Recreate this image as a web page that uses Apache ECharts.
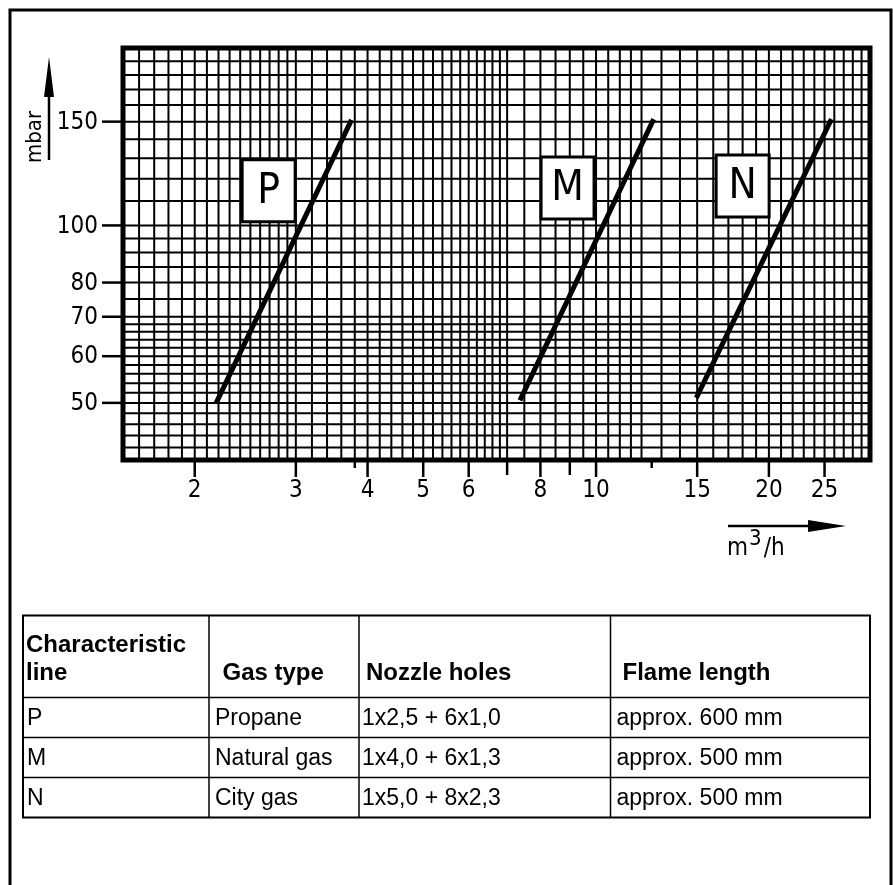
<!DOCTYPE html>
<html><head><meta charset="utf-8">
<script src="https://cdn.jsdelivr.net/npm/echarts@6/dist/echarts.min.js"></script>
<style>html,body{margin:0;padding:0;background:#fff}#c{width:893px;height:885px}</style>
</head><body><div id="c"></div>
<script>
// ---- data ----
const X_MIN = 1.5, X_MAX = 30, Y_MIN = 40, Y_MAX = 200;
const xGrid = [1.6,1.7,1.8,1.9,2.0,2.1,2.2,2.3,2.4,2.5,2.6,2.7,2.8,2.9,3.0,
  3.2,3.4,3.6,3.8,4.0,4.2,4.4,4.6,4.8,5.0,5.2,5.4,5.6,5.8,6.0,6.2,6.4,6.6,6.8,7.0,
  7.5,8,8.5,9,9.5,10,10.5,11,11.5,12,13,14,15,16,17,18,19,20,21,22,23,24,25,26,27,28,29];
const yGrid = [42,44,46,48,50,52,54,56,58,60,62,64,66,68,70,75,80,85,90,95,
  100,110,120,130,140,150,160,170,180,190];
const xTickLabels = [2,3,4,5,6,8,10,15,20,25];
const xExtraTicks = [7,9];
const xShortTicks = [3.8,12.5];
const yTickLabels = [50,60,70,80,100,150];
const lineNames = ['P','M','N'];
const lineP = [[2.18,50],[3.75,151]];
const lineM = [[7.37,50.5],[12.6,151.5]];
const lineN = [[14.95,51],[25.7,151.5]];
const labelBoxX = [2.69, 8.92, 18.0];
const labelBoxY = [114.5, 115.8, 116.7];
const yAxisTitle = 'mbar';
const xAxisTitleMain = ['m','3','/h'];
const tableHeader = ['Characteristic\nline','Gas type','Nozzle holes','Flame length'];
const tableRows = [
  ['P','Propane','1x2,5 + 6x1,0','approx. 600 mm'],
  ['M','Natural gas','1x4,0 + 6x1,3','approx. 500 mm'],
  ['N','City gas','1x5,0 + 8x2,3','approx. 500 mm']
];

// ---- style / layout ----
const NUM_FONT = '"DejaVu Sans Condensed","DejaVu Sans",sans-serif';
const TAB_FONT = '"Liberation Sans",Arial,sans-serif';
const colX = [23, 209, 359, 610.5, 870];
const rowY = [615.5, 697.5, 737.5, 777.5, 817.5];
const headPad = [3, 13.5, 7, 12];
const cellPad = [4, 6, 3, 6];

const chart = echarts.init(document.getElementById('c'), null, {renderer:'canvas'});

function vLine(api, v, w){
  const a = api.coord([v, Y_MIN]), b = api.coord([v, Y_MAX]);
  return {type:'line', shape:{x1:a[0],y1:a[1],x2:b[0],y2:b[1]}, style:{stroke:'#000', lineWidth:w}};
}
function hLine(api, v, w){
  const a = api.coord([X_MIN, v]), b = api.coord([X_MAX, v]);
  return {type:'line', shape:{x1:a[0],y1:a[1],x2:b[0],y2:b[1]}, style:{stroke:'#000', lineWidth:w}};
}

const graphics = [];
// outer frame
graphics.push({type:'rect', shape:{x:10,y:10,width:881,height:900}, style:{fill:null, stroke:'#000', lineWidth:3}, silent:true});
// y axis title + arrow
graphics.push({type:'text', x:35, y:137, rotation:Math.PI/2, style:{text:yAxisTitle, font:'22px '+NUM_FONT, fill:'#000', align:'center', verticalAlign:'middle'}});
graphics.push({type:'line', shape:{x1:49,y1:160,x2:49,y2:92}, style:{stroke:'#000', lineWidth:2.5}});
graphics.push({type:'polygon', shape:{points:[[49,57],[44,97],[54,97]]}, style:{fill:'#000'}});
// x axis title + arrow
graphics.push({type:'line', shape:{x1:728,y1:526,x2:812,y2:526}, style:{stroke:'#000', lineWidth:2.5}});
graphics.push({type:'polygon', shape:{points:[[846,526],[808,520],[808,532]]}, style:{fill:'#000'}});
graphics.push({type:'text', x:727, y:561, style:{text:'{a|'+xAxisTitleMain[0]+'}{b|'+xAxisTitleMain[1]+'}{a|'+xAxisTitleMain[2]+'}', verticalAlign:'bottom', align:'left',
  rich:{a:{font:'24px '+NUM_FONT, fill:'#000', verticalAlign:'bottom'}, b:{font:'22px '+NUM_FONT, fill:'#000', verticalAlign:'bottom', padding:[0,2,11,1]}}}});

// table
graphics.push({type:'rect', shape:{x:colX[0], y:rowY[0], width:colX[4]-colX[0], height:rowY[4]-rowY[0]}, style:{fill:null, stroke:'#000', lineWidth:2}});
for (let i=1;i<colX.length-1;i++) graphics.push({type:'line', shape:{x1:colX[i],y1:rowY[0],x2:colX[i],y2:rowY[4]}, style:{stroke:'#000', lineWidth:1.5}});
for (let j=1;j<rowY.length-1;j++) graphics.push({type:'line', shape:{x1:colX[0],y1:rowY[j],x2:colX[4],y2:rowY[j]}, style:{stroke:'#000', lineWidth:1.5}});
tableHeader.forEach((t,i)=>{
  graphics.push({type:'text', x:colX[i]+headPad[i], y:rowY[1]-10, style:{text:t, font:'bold 24px '+TAB_FONT, lineHeight:28, fill:'#000', align:'left', verticalAlign:'bottom'}});
});
tableRows.forEach((row,j)=>{
  row.forEach((t,i)=>{
    graphics.push({type:'text', x:colX[i]+cellPad[i], y:(rowY[j+1]+rowY[j+2])/2+1, style:{text:t, font:'23px '+TAB_FONT, fill:'#000', align:'left', verticalAlign:'middle'}});
  });
});

const option = {
  animation:false,
  backgroundColor:'#fff',
  grid:{left:123, right:23, top:48, height:412, show:true, borderColor:'#000', borderWidth:5, backgroundColor:'#fff', containLabel:false},
  xAxis:{type:'log', logBase:10, min:X_MIN, max:X_MAX, axisLine:{show:false}, axisTick:{show:false}, axisLabel:{show:false}, splitLine:{show:false}},
  yAxis:{type:'log', logBase:10, min:Y_MIN, max:Y_MAX, axisLine:{show:false}, axisTick:{show:false}, axisLabel:{show:false}, splitLine:{show:false}},
  graphic:graphics,
  series:[
    {type:'custom', name:'vgrid', z:1, data:xGrid.map(v=>[v,Y_MIN]), renderItem:(p,api)=>vLine(api, api.value(0), 2), silent:true},
    {type:'custom', name:'hgrid', z:1, data:yGrid.map(v=>[X_MIN,v]), renderItem:(p,api)=>hLine(api, api.value(1), 2), silent:true},
    {type:'custom', name:'xticks', z:2, clip:false, data:xTickLabels.map(v=>[v,Y_MIN]), renderItem:(p,api)=>{
      const c = api.coord([api.value(0), Y_MIN]);
      return {type:'group', children:[
        {type:'line', shape:{x1:c[0],y1:c[1]+2,x2:c[0],y2:c[1]+17}, style:{stroke:'#000', lineWidth:2.5}},
        {type:'text', x:c[0], y:c[1]+31, style:{text:String(xTickLabels[p.dataIndex]), font:'24px '+NUM_FONT, fill:'#000', align:'center', verticalAlign:'middle'}}
      ]};
    }},
    {type:'custom', name:'xticks2', z:2, clip:false, data:xExtraTicks.map(v=>[v,Y_MIN]), renderItem:(p,api)=>{
      const c = api.coord([api.value(0), Y_MIN]);
      return {type:'line', shape:{x1:c[0],y1:c[1]+2,x2:c[0],y2:c[1]+15}, style:{stroke:'#000', lineWidth:2.5}};
    }},
    {type:'custom', name:'xticks3', z:2, clip:false, data:xShortTicks.map(v=>[v,Y_MIN]), renderItem:(p,api)=>{
      const c = api.coord([api.value(0), Y_MIN]);
      return {type:'line', shape:{x1:c[0],y1:c[1]+2,x2:c[0],y2:c[1]+8}, style:{stroke:'#000', lineWidth:2.5}};
    }},
    {type:'custom', name:'yticks', z:2, clip:false, data:yTickLabels.map(v=>[X_MIN,v]), renderItem:(p,api)=>{
      const c = api.coord([X_MIN, api.value(1)]);
      return {type:'group', children:[
        {type:'line', shape:{x1:c[0]-21,y1:c[1],x2:c[0],y2:c[1]}, style:{stroke:'#000', lineWidth:2.5}},
        {type:'text', x:c[0]-25, y:c[1]+1, style:{text:String(yTickLabels[p.dataIndex]), font:'24px '+NUM_FONT, fill:'#000', align:'right', verticalAlign:'middle'}}
      ]};
    }},
    {type:'line', name:'P', z:3, data:lineP, symbol:'none', lineStyle:{color:'#000', width:5}},
    {type:'line', name:'M', z:3, data:lineM, symbol:'none', lineStyle:{color:'#000', width:5}},
    {type:'line', name:'N', z:3, data:lineN, symbol:'none', lineStyle:{color:'#000', width:5}},
    {type:'custom', name:'boxes', z:4, data:labelBoxX.map((x,i)=>[x,labelBoxY[i]]), renderItem:(p,api)=>{
      const c = api.coord([api.value(0), api.value(1)]);
      return {type:'group', children:[
        {type:'rect', shape:{x:c[0]-26.5,y:c[1]-31,width:53,height:62}, style:{fill:'#fff', stroke:'#000', lineWidth:3}},
        {type:'text', x:c[0], y:c[1]+1, style:{text:lineNames[p.dataIndex], font:'42px '+NUM_FONT, fill:'#000', align:'center', verticalAlign:'middle'}}
      ]};
    }}
  ]
};
chart.setOption(option);
</script></body></html>
